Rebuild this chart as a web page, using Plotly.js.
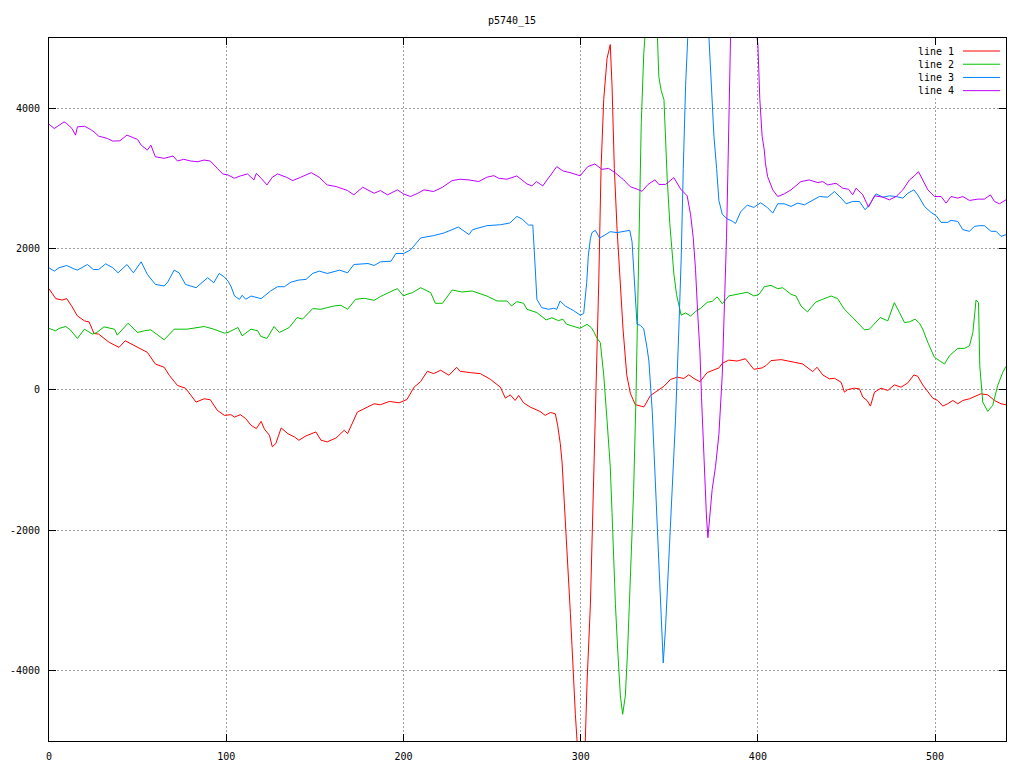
<!DOCTYPE html>
<html>
<head>
<meta charset="utf-8">
<script src="https://cdn.plot.ly/plotly-3.0.1.min.js"></script>
<style>html,body{margin:0;padding:0;background:#fff;}#chart{width:1024px;height:768px;}</style>
</head>
<body>
<div id="chart"></div>
<script>
const chartTitle = 'p5740_15';
const seriesNames = ['line 1', 'line 2', 'line 3', 'line 4'];
const seriesColors = ['#ff0000', '#00c000', '#0080ff', '#c000ff'];
const xTickVals = [0, 100, 200, 300, 400, 500];
const yTickVals = [-4000, -2000, 0, 2000, 4000];
const yTickText = ['-4000', '-2000', '0', '2000', '4000'];

const x1 = [0,3.8,7.5,10,13,16,20,22.6,25.4,28,34,39.5,43,50,55.5,60,65,68,72.5,77,83,87.6,91,95,99,102.6,104.7,108,111,114,117,119.7,121.6,124.4,126,128,131,134.7,138.5,141,145,150.6,153.5,157,162,166.6,168.5,174,178.8,183.5,187,192,197.6,202,206,209.7,213.5,217,221,225.7,230,232,237.8,243.4,249,254.7,257.5,260.3,263,265,267.8,271.5,277,280,283,285.7,287,288.5,289.5,290.4,291.3,292.3,293.2,294.2,295.1,296,297,298,300,302.6,303.6,305.5,307.3,308.8,310.2,311.5,313,314.9,316.7,317.7,319,320.5,322.4,323.9,326,328,330.8,333.7,335.7,339.4,343.2,347,350.7,354.5,358.2,361,363.9,367.3,371.4,375.2,378,379.9,383.6,388.3,393,397.7,402.4,404.6,407.4,413.1,416.8,420.6,425.3,428.1,430.9,433.4,436.6,440.4,443.2,447,448.8,450.7,454.5,457.3,459.2,461.6,463.5,465.8,469.5,473.3,477,480.8,484.6,488,490.2,493,495.9,498.7,501.5,504.3,507.1,510,512.8,515.6,519.4,523.1,525.8,529.7,533.5,537.2,540];
const y1 = [1434,1292,1273,1292,1179,1047,976,962,797,788,670,599,693,599,528,363,316,198,57,19,-179,-132,-146,-297,-368,-358,-392,-358,-415,-509,-556,-453,-566,-651,-816,-769,-547,-627,-675,-722,-660,-604,-722,-745,-689,-580,-627,-321,-264,-203,-217,-170,-189,-142,33,113,259,226,274,203,316,259,240,226,146,33,-123,-76,-156,-85,-189,-250,-311,-368,-326,-346,-509,-770,-1031,-1422,-1749,-2271,-2727,-3184,-3641,-4163,-4620,-5011,-5500,-5011,-4163,-3053,-1422,13,1514,3145,4124,4711,4907,4320,3145,2297,1514,861,209,-52,-215,-235,-248,-85,-20,46,143,176,157,209,157,111,241,274,307,372,418,405,437,287,307,340,411,425,411,387,363,302,255,316,207,151,160,103,-38,-1,19,9,-108,-156,-236,-38,19,-14,66,33,94,207,188,66,-38,-123,-156,-236,-203,-156,-203,-156,-132,-94,-61,-76,-156,-203,-217];

const x2 = [0,3.8,5.6,9.4,12,16,20,24.5,27,31,37,38.5,44.6,50,53.7,57.4,65,70.6,78,87.6,93,99,101,106.6,109,114,117.8,119.5,123,127,130,135.6,140,143,148.8,153.5,157,161,164.7,168.5,173,178,183.5,187,194.7,196.6,200,202,205,209.7,215.4,218,222,227.5,233,238.8,247,252.8,258.4,261,264,267.8,269.7,275.3,280.5,283.7,287.5,290,292,296,299.6,303.6,306,307.3,309.2,311.1,313,314.9,316.7,317.7,318.6,319.6,320.9,322.4,323.7,325.2,326.5,328,329.9,331.2,332.2,333.3,334.2,335.6,336.5,340,343.2,344.1,345.4,347,347.9,348.8,350.3,351.7,352.6,354.1,355.4,356.7,359.2,362,364.8,367.6,371.4,374.2,377,379.9,383.6,388.3,394,397.7,400.6,403.6,407.4,411.2,414,418.7,421.5,424.3,428,430,432.7,436.6,441.3,445,448.8,452.6,456.3,460.1,462.9,465.8,469.1,473.3,477,479.9,482.7,485.5,488.7,491.2,493,495.9,499.6,502.4,505.3,508.1,512.8,516.6,519.4,521.3,523.1,524.5,525.2,526.9,529.7,532.5,535.3,538.2,540];
const y2 = [868,835,868,896,849,726,858,788,811,891,858,773,943,811,835,849,707,858,858,896,858,802,811,882,764,858,835,755,726,896,811,882,1024,1000,1151,1141,1165,1189,1198,1141,1283,1297,1269,1321,1415,1434,1330,1354,1377,1448,1377,1226,1226,1415,1387,1401,1330,1259,1259,1189,1250,1226,1141,1094,990,1020,980,1000,929,900,870,927,880,829,731,666,209,-444,-1096,-1749,-2401,-3054,-3706,-4359,-4620,-4359,-3706,-2727,-1422,-117,1188,2493,3797,4776,5100,5700,5100,4450,4254,4124,3471,3014,2362,1971,1644,1351,1188,1057,1090,1044,1109,1155,1240,1253,1318,1220,1331,1351,1383,1331,1351,1462,1481,1434,1448,1354,1330,1189,1104,1165,1245,1283,1330,1292,1141,1047,953,849,858,929,1024,976,1236,1094,953,962,1000,943,858,670,458,411,363,481,585,585,622,811,1273,1236,340,-179,-311,-226,57,245,330];

const x3 = [0,3,5.6,10,14,16,21.7,25,28,32,36,39,44,47.6,52,55.5,60,65,67,70.6,73.4,77,83,86.6,89.5,93,96,99,101,102.6,104.7,106,107.5,109,111,114,119.7,125,129,132.8,136.6,141,145,148.8,152.5,157,164,168.5,172,180,183.5,187,193,195.7,200,204,208,209.7,217,222.8,231,237,239,247,254.7,260,264,267,270.6,273,274.3,275.3,278,281.8,284.8,286.5,288.4,291.3,296,299.8,301.7,303.4,304.3,305.5,306.4,308.3,310.7,313.9,316.7,320.5,324.3,327.7,329,330.3,331.8,333.7,335.6,337.4,338.5,340.4,342.3,344.1,345.4,346.6,347.9,349.8,351.7,353.5,355.4,356.7,357.9,359.2,360.5,366,372.3,373.3,374.2,375.2,376.7,378,379.9,382.7,385.5,387.4,390.2,394,397.7,401.5,405.3,408.4,411.2,414.9,418.7,422.5,426.3,430,434.7,439.4,443.2,447,449.8,453.5,457.3,460.5,462.9,466.7,470.5,474.2,478,481.8,484.6,488,490.2,494,497.7,500.6,503.4,507.1,509,512.8,515.6,519.4,522.2,525,527.8,531.6,534.4,537.2,540];
const y3 = [1731,1684,1731,1764,1717,1698,1778,1707,1707,1788,1731,1660,1778,1660,1816,1637,1495,1472,1528,1698,1660,1495,1448,1533,1590,1519,1651,1600,1542,1472,1330,1307,1283,1340,1283,1330,1292,1401,1462,1462,1528,1557,1566,1651,1684,1651,1698,1660,1778,1792,1764,1816,1825,1934,1934,1985,2109,2156,2189,2226,2311,2203,2274,2330,2344,2368,2462,2424,2339,2339,1755,1283,1165,1141,1155,1141,1259,1188,1122,1057,1080,1519,1896,2150,2232,2264,2153,2199,2245,2232,2245,2264,2101,1514,927,914,861,600,405,-313,-1422,-2532,-3380,-3889,-3380,-2401,-1422,-444,861,1840,3145,4320,5050,5800,5050,4581,4124,3602,3145,2688,2493,2427,2395,2362,2525,2623,2590,2656,2590,2509,2642,2642,2604,2651,2627,2675,2745,2736,2816,2722,2642,2675,2675,2557,2627,2783,2736,2755,2745,2722,2792,2840,2769,2604,2519,2472,2377,2377,2406,2391,2274,2250,2321,2330,2330,2250,2250,2179,2203];

const x4 = [0,3,8.5,10,13,15,16,20,23.5,25.4,28,33,36,40,44,50,52,55.5,57.5,60,65,70,72.5,76,80,84,87.5,91,95,98,101,104.5,108,112,115.6,117,119.7,123,126,129,134,137.5,142,148,152.5,157,162,168.5,172,177,183.5,187,191,196.6,200,204,208,211.6,217,222,227.5,232,237,242.5,247,251,253.7,258.4,264,269.7,272.5,275,278.6,281.8,286.5,290,294,299.7,304,308,312,315.8,319.6,324.3,328,331.8,334.6,338,341.9,344.1,347.9,352.6,356.4,360.1,362,363.5,364.8,366.1,367.3,368.2,369.2,370.1,371,371.8,372.9,374.2,376.1,378,379.9,381.2,382.3,383.1,383.6,384.6,392,399.6,400,401.1,402.4,403.6,404.3,405.5,406.2,408.4,411.2,414.9,418.7,420.6,424.3,429,433.8,436.6,439.4,444.1,447.9,451.1,453.5,455.4,459.2,462.4,465.8,470.5,474.2,478,481.8,485.5,488.3,490.6,493,495.9,499.6,503.4,506.2,509,512.8,515.6,519.4,524.1,527.8,531.2,533.5,536.3,540];
const y4 = [3774,3712,3807,3783,3712,3618,3736,3745,3698,3665,3604,3571,3533,3538,3618,3557,3476,3406,3476,3311,3288,3321,3250,3274,3250,3240,3264,3250,3146,3066,3052,3005,3038,3066,2981,3075,3005,2910,3019,3066,3019,2972,3019,3085,3019,2910,2887,2830,2769,2877,2792,2830,2769,2840,2783,2745,2790,2840,2816,2877,2972,2991,2981,2958,3019,3042,3005,2991,3038,2924,2896,2958,2896,3005,3170,3109,3085,3040,3170,3208,3132,3145,3080,2982,2884,2851,2819,2917,2982,2917,2917,3014,2851,2754,2493,2166,1710,1057,535,-117,-770,-1422,-1814,-2108,-1814,-1422,-1096,-639,209,1188,2166,3145,3797,5050,6500,5050,4907,4124,3602,3406,3210,3028,2982,2840,2745,2783,2840,2877,2958,2981,2943,2958,2910,2934,2863,2849,2769,2863,2769,2594,2755,2736,2698,2745,2840,2981,3038,3099,2981,2840,2745,2745,2651,2745,2722,2745,2689,2708,2708,2769,2675,2642,2698];

const xs = [x1, x2, x3, x4];
const ys = [y1, y2, y3, y4];

const FONT = 'DejaVu Sans Mono, monospace';

const traces = seriesNames.map((n, i) => ({
  type: 'scatter', mode: 'lines', name: n,
  x: xs[i], y: ys[i],
  line: {color: seriesColors[i], width: 1},
  showlegend: false, hoverinfo: 'skip'
}));

// gnuplot-style key: text right-aligned, sample line on its right
const keyTop = 0.9815, keyStep = 0.0188;
const annotations = seriesNames.map((n, i) => ({
  xref: 'paper', yref: 'paper', x: 0.948, y: keyTop - i * keyStep,
  xanchor: 'right', yanchor: 'middle', showarrow: false,
  text: n, font: {family: FONT, size: 10, color: '#000'}
}));
const shapes = [{
  type: 'rect', xref: 'paper', yref: 'paper', x0: 0.905, x1: 0.998, y0: 0.914, y1: 0.990,
  fillcolor: '#ffffff', line: {width: 0}, layer: 'above'
}].concat(seriesNames.map((n, i) => ({
  type: 'line', xref: 'paper', yref: 'paper', x0: 0.955, x1: 0.9937,
  y0: keyTop - i * keyStep, y1: keyTop - i * keyStep,
  line: {color: seriesColors[i], width: 1}, layer: 'above'
})));

const axisCommon = {
  showline: true, linecolor: '#000', linewidth: 1, mirror: 'ticks',
  ticks: 'inside', ticklen: 7, tickcolor: '#000', tickwidth: 1,
  showgrid: true, gridcolor: '#a0a0a0', griddash: '2px,2px', gridwidth: 1,
  zeroline: false, tickfont: {family: FONT, size: 10, color: '#000'}
};

const layout = {
  width: 1024, height: 768,
  margin: {l: 49, r: 18, t: 38, b: 27, pad: 0},
  paper_bgcolor: '#fff', plot_bgcolor: '#fff',
  title: {text: chartTitle, font: {family: FONT, size: 10, color: '#000'}, x: 0.5, xanchor: 'center', y: 1 - 20/768, yanchor: 'middle'},
  xaxis: Object.assign({}, axisCommon, {range: [0, 540], tickmode: 'array', tickvals: xTickVals, ticklabelstandoff: 6}),
  yaxis: Object.assign({}, axisCommon, {range: [-5000, 5000], tickmode: 'array', tickvals: yTickVals, ticktext: yTickText, ticklabelstandoff: 6}),
  showlegend: false,
  annotations: annotations, shapes: shapes
};

Plotly.newPlot('chart', traces, layout, {staticPlot: true, displayModeBar: false});
</script>
</body>
</html>
